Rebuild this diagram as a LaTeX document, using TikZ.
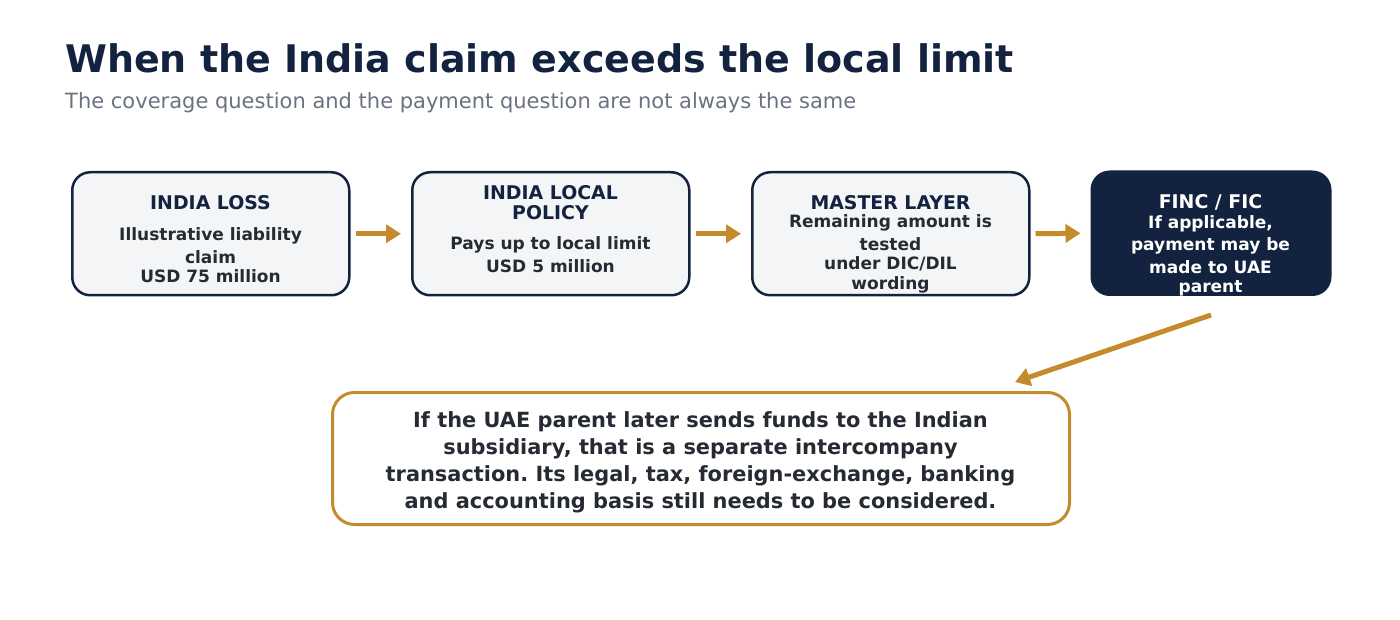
\documentclass[tikz,border=0pt]{standalone}
\usepackage{fontspec}
\setmainfont{DejaVu Sans}
\frenchspacing
\usetikzlibrary{arrows.meta}
\definecolor{navy}{HTML}{13233F}
\definecolor{gold}{HTML}{C48A2C}
\definecolor{subgray}{HTML}{6B7280}
\definecolor{textdark}{HTML}{262B33}
\definecolor{boxfill}{HTML}{F3F5F7}
\tikzset{
  stagebox/.style={draw=navy, line width=2.5pt, fill=boxfill, rounded corners=18pt,
    minimum width=277pt, minimum height=123pt, inner sep=0pt, anchor=north west},
  darkbox/.style={stagebox, fill=navy, minimum width=238.5pt},
  notebox/.style={draw=gold, line width=3pt, fill=white, rounded corners=22pt,
    minimum width=737pt, minimum height=132pt, inner sep=0pt, anchor=north west},
  hd/.style={anchor=base, inner sep=0pt, font=\bfseries\fontsize{18.9}{20}\selectfont, text=navy},
  bd/.style={anchor=base, inner sep=0pt, font=\bfseries\fontsize{17}{18}\selectfont, text=textdark},
  hdw/.style={hd, text=white},
  bdw/.style={bd, text=white},
  nt/.style={anchor=base, inner sep=0pt, font=\bfseries\fontsize{20.9}{24}\selectfont, text=textdark},
  arr/.style={draw=gold, line width=5pt, -{Triangle[length=15pt,width=18pt]}},
}
\begin{document}
\begin{tikzpicture}[x=1pt,y=-1pt]
\useasboundingbox (0,0) rectangle (1400,620);
\fill[white] (0,0) rectangle (1400,620);
% title
\node[anchor=base west, inner sep=0pt, font=\bfseries\fontsize{38}{42}\selectfont, text=navy] (title) at (65,72.3) {When the India claim exceeds the local limit};
\node[anchor=base west, inner sep=0pt, font=\fontsize{21}{24}\selectfont, text=subgray] (subtitle) at (65,108.3) {The coverage question and the payment question are not always the same};
% boxes
\node[stagebox] (b1) at (71,171) {};
\node[stagebox] (b2) at (411,171) {};
\node[stagebox] (b3) at (751,171) {};
\node[darkbox] (b4) at (1090.5,170.5) {};
% box 1 text
\node[hd] (b1h) at (210.5,209.3) {INDIA LOSS};
\node[bd] (b1a) at (210.5,240.7) {Illustrative liability};
\node[bd] (b1b) at (210.5,263.3) {claim};
\node[bd] (b1c) at (210.5,282.3) {USD 75 million};
% box 2 text
\node[hd] (b2h1) at (550.5,200) {INDIA LOCAL};
\node[hd] (b2h2) at (550.5,220) {POLICY};
\node[bd] (b2a) at (550.5,250) {Pays up to local limit};
\node[bd] (b2b) at (550.5,272.7) {USD 5 million};
% box 3 text
\node[hd] (b3h) at (890.5,209.3) {MASTER LAYER};
\node[bd] (b3a) at (890.5,227.7) {Remaining amount is};
\node[bd] (b3b) at (890.5,250.7) {tested};
\node[bd] (b3c) at (890.5,269.3) {under DIC/DIL};
\node[bd] (b3d) at (890.5,290) {wording};
% box 4 text
\node[hdw] (b4h) at (1210.5,209) {FINC / FIC};
\node[bdw] (b4a) at (1210.5,228.3) {If applicable,};
\node[bdw] (b4b) at (1210.5,251) {payment may be};
\node[bdw] (b4c) at (1210.5,274) {made to UAE};
\node[bdw] (b4d) at (1210.5,292.7) {parent};
% horizontal arrows
\draw[arr, shorten <=5pt, shorten >=10pt] (b1.east) -- (b2.west);
\draw[arr, shorten <=5pt, shorten >=10pt] (b2.east) -- (b3.west);
\draw[arr, shorten <=5pt, shorten >=10pt] (b3.east) -- (b4.west);
% note box
\node[notebox] (note) at (331,391) {};
\node[nt] (n1) at (700.5,427.3) {If the UAE parent later sends funds to the Indian};
\node[nt] (n2) at (700.5,454.3) {subsidiary, that is a separate intercompany};
\node[nt] (n3) at (700.5,481.3) {transaction. Its legal, tax, foreign-exchange, banking};
\node[nt] (n4) at (700.5,508.3) {and accounting basis still needs to be considered.};
% diagonal arrow
\coordinate (d1) at (1211,315);
\coordinate (d2) at (1015,382);
\draw[arr] (d1) -- (d2);
\end{tikzpicture}
\end{document}
